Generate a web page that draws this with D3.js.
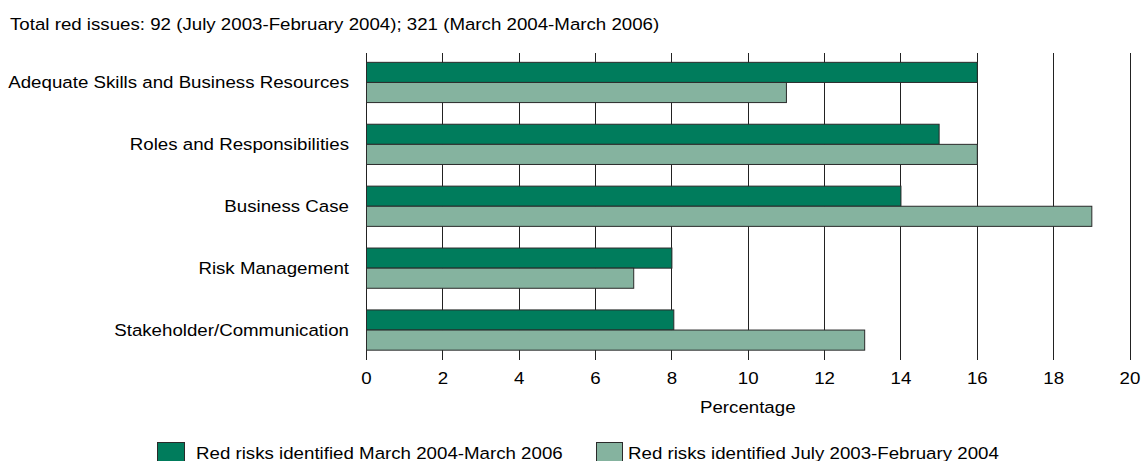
<!DOCTYPE html>
<html><head><meta charset="utf-8">
<script src="https://cdn.jsdelivr.net/npm/d3@7"></script>
<style>body{margin:0;background:#fff;} text{font-family:"Liberation Sans",Arial,sans-serif;fill:#000;}</style>
</head><body>
<svg id="c" width="1141" height="461"></svg>
<script>
const categories = ["Adequate Skills and Business Resources","Roles and Responsibilities","Business Case","Risk Management","Stakeholder/Communication"];
const seriesNames = ["Red risks identified March 2004-March 2006","Red risks identified July 2003-February 2004"];
const recent = [16, 15, 14, 8, 8.05];
const earlier = [11, 16, 19, 7, 13.05];
const ticks = [0,2,4,6,8,10,12,14,16,18,20];
const title = "Total red issues: 92 (July 2003-February 2004); 321 (March 2004-March 2006)";
const colors = ["#007c5c","#85b39f"];

const FS = 17, SX = 1.1;
const svg = d3.select("#c");
function label(parent, px, py, txt, anchor){
  const g = parent.append("g").attr("transform",`translate(${px},${py}) scale(${SX},1)`);
  g.append("text").attr("font-size",FS).attr("text-anchor",anchor||"start").text(txt);
  return g;
}

const x = d3.scaleLinear().domain([0,20]).range([366,1129.5]);
const y = d3.scaleBand().domain(categories).range([51.5,361]).paddingInner(0.35).paddingOuter(0.175);
const inner = d3.scaleBand().domain([0,1]).range([0,y.bandwidth()]);

label(svg, 10, 30, title);

// gridlines
svg.append("g").selectAll("line").data(ticks).join("line")
  .attr("x1",d=>Math.round(x(d))+0.5).attr("x2",d=>Math.round(x(d))+0.5)
  .attr("y1",53).attr("y2",360).attr("stroke","#222").attr("stroke-width",1);

const series = [recent, earlier];
series.forEach((vals,si)=>{
  svg.append("g").selectAll("rect").data(categories).join("rect")
    .attr("x",x(0)+0.5).attr("y",(d)=>y(d)+inner(si))
    .attr("width",(d,i)=>x(vals[i])-x(0)).attr("height",inner.bandwidth())
    .attr("fill",colors[si]).attr("stroke","#2a2a2a").attr("stroke-width",1);
});

// category labels
categories.forEach(c=>label(svg, 349, y(c)+y.bandwidth()/2+6, c, "end"));

// x axis tick labels via axis scale
const ax = d3.axisBottom(x).tickValues(ticks).tickSize(0).tickPadding(0);
const g = svg.append("g").attr("transform","translate(0,0)").call(ax);
g.select(".domain").remove();
g.selectAll(".tick text").remove();
g.selectAll(".tick").each(function(d){
  label(d3.select(this), 0, 384, String(d), "middle");
});

label(svg, (x(0)+x(20))/2, 413, "Percentage", "middle");

// legend
const leg = [{x:157,w:27,tx:196},{x:596,w:26,tx:628}];
seriesNames.forEach((n,i)=>{
  svg.append("rect").attr("x",leg[i].x+0.5).attr("y",442.5).attr("width",leg[i].w).attr("height",22)
    .attr("fill",colors[i]).attr("stroke","#2a2a2a");
  label(svg, leg[i].tx, 458.5, n);
});
</script>
</body></html>
